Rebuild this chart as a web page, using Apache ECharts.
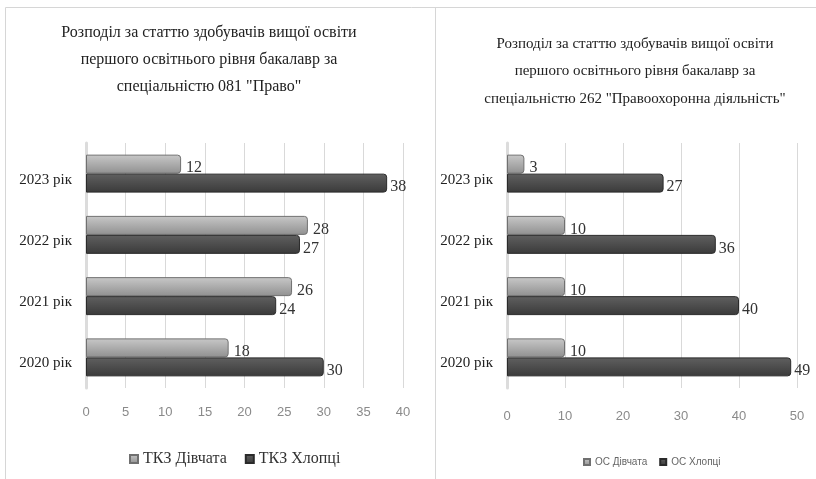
<!DOCTYPE html>
<html>
<head>
<meta charset="utf-8">
<script src="https://cdn.jsdelivr.net/npm/echarts@6/dist/echarts.min.js"></script>
<style>
html,body{margin:0;padding:0;background:#fff;}
#c{width:816px;height:479px;}
</style>
</head>
<body>
<div id="c"></div>
<script>
const categories = ['2020 рік', '2021 рік', '2022 рік', '2023 рік'];
const lawGirls = [18, 26, 28, 12];
const lawBoys = [30, 24, 27, 38];
const policeGirls = [10, 10, 10, 3];
const policeBoys = [49, 40, 36, 27];
const lawTicks = {min: 0, max: 40, interval: 5};
const policeTicks = {min: 0, max: 50, interval: 10};
const titleLeft = 'Розподіл за статтю здобувачів вищої освіти\nпершого освітнього рівня бакалавр за\nспеціальністю 081 "Право"';
const titleRight = 'Розподіл за статтю здобувачів вищої освіти\nпершого освітнього рівня бакалавр за\nспеціальністю 262 "Правоохоронна діяльність"';

const serif = "'Liberation Serif', 'Times New Roman', serif";
const sans = "'Liberation Sans Narrow', 'Liberation Sans', sans-serif";

const girlColor = {type:'linear', x:0, y:0, x2:0, y2:1, colorStops:[{offset:0,color:'#c8c8c8'},{offset:1,color:'#909090'}]};
const boyColor = {type:'linear', x:0, y:0, x2:0, y2:1, colorStops:[{offset:0,color:'#606060'},{offset:1,color:'#3a3a3a'}]};

function barSeries(name, data, idx, isGirl) {
  return {
    name: name, type: 'bar', xAxisIndex: idx, yAxisIndex: idx, data: data,
    barGap: '0%', barCategoryGap: '38%',
    itemStyle: {color: isGirl ? girlColor : boyColor, borderColor: isGirl ? '#707070' : '#2a2a2a', borderWidth: 1, borderRadius: [0,3,3,0]},
    label: {show: true, position: 'right', distance: isGirl ? 5 : 3, offset: [0, 4], fontFamily: serif, fontSize: 16, color: '#333'}
  };
}

function xAx(idx, ticks, margin) {
  return {
    gridIndex: idx, type: 'value', min: ticks.min, max: ticks.max, interval: ticks.interval,
    axisLine: {show: false}, axisTick: {show: false},
    axisLabel: {color: '#8a8a8a', fontFamily: sans, fontSize: 13, margin: margin},
    splitLine: {show: true, lineStyle: {color: '#d9d9d9', width: 1}}
  };
}
function yAx(idx) {
  return {
    gridIndex: idx, type: 'category', data: categories,
    axisLine: {show: true, lineStyle: {color: '#dcdcdc', width: 3}}, axisTick: {show: false},
    axisLabel: {color: '#222', fontFamily: serif, fontSize: 15, margin: 14, verticalAlign: 'top', lineHeight: 12}
  };
}

const chart = echarts.init(document.getElementById('c'));
chart.setOption({
  animation: false,
  backgroundColor: '#fff',
  graphic: [
    {type: 'polyline', shape: {points: [[5.5, 490], [5.5, 7.5], [830, 7.5]]}, style: {stroke: '#d6d6d6', fill: null, lineWidth: 1}},
    {type: 'line', shape: {x1: 435.5, y1: 7.5, x2: 435.5, y2: 490}, style: {stroke: '#d6d6d6', lineWidth: 1}}
  ],
  title: [
    {text: titleLeft, left: 204, top: 14, textAlign: 'center',
     textStyle: {fontFamily: serif, fontSize: 16, fontWeight: 'normal', color: '#222', lineHeight: 27}},
    {text: titleRight, left: 630, top: 25, textAlign: 'center',
     textStyle: {fontFamily: serif, fontSize: 15, fontWeight: 'normal', color: '#222', lineHeight: 27.5}}
  ],
  legend: [
    {data: ['ТКЗ Дівчата', 'ТКЗ Хлопці'], left: 124, top: 446,
     icon: 'rect', itemWidth: 8, itemHeight: 8, itemGap: 18,
     textStyle: {fontFamily: serif, fontSize: 16, color: '#333'}},
    {data: ['ОС Дівчата', 'ОС Хлопці'], left: 578, top: 452,
     icon: 'rect', itemWidth: 6, itemHeight: 6, itemGap: 12,
     textStyle: {fontFamily: sans, fontSize: 10, color: '#666'}}
  ],
  grid: [
    {left: 86, right: 413, top: 143, bottom: 91},
    {left: 507, right: 19, top: 143, bottom: 91}
  ],
  xAxis: [xAx(0, lawTicks, 18), xAx(1, policeTicks, 22)],
  yAxis: [yAx(0), yAx(1)],
  series: [
    barSeries('ТКЗ Дівчата', lawGirls, 0, true),
    barSeries('ТКЗ Хлопці', lawBoys, 0, false),
    barSeries('ОС Дівчата', policeGirls, 1, true),
    barSeries('ОС Хлопці', policeBoys, 1, false)
  ]
});
</script>
</body>
</html>
